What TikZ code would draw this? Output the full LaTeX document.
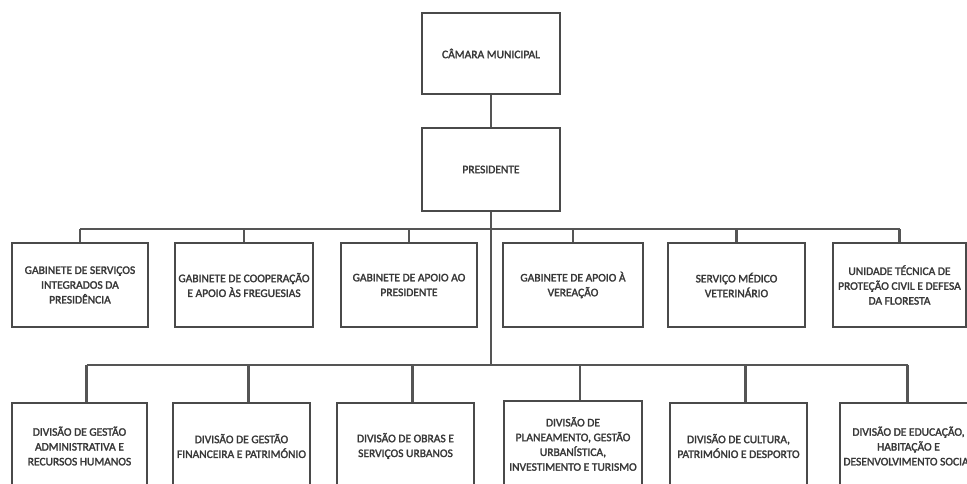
\documentclass[tikz,border=0pt]{standalone}
\usepackage{fontspec}
\setmainfont{Carlito}
\newfontfamily\boxfont{Carlito}[FakeBold=2]
\definecolor{boxc}{HTML}{4A4A4A}
\definecolor{linec}{HTML}{555555}
\definecolor{txtc}{HTML}{383838}
\begin{document}
\begin{tikzpicture}[x=1pt,y=-1pt,
  box/.style={draw=boxc, line width=2.8pt, fill=white, minimum width=#1,
    minimum height=84pt, inner sep=0pt, align=center,
    font=\boxfont\fontsize{11.5}{14.8}\selectfont, text=txtc},
  box/.default=137pt,
  conn/.style={draw=linec, line width=2.2pt}]
\useasboundingbox (0,0) rectangle (967,484);
\clip (0,0) rectangle (967,484);
\fill[white] (0,0) rectangle (967,484);

% buses
\coordinate (b1) at (0,229);
\coordinate (b2) at (0,365);

% top
\node[box=138pt, minimum height=81pt] (cm) at (491,53.5) {CÂMARA MUNICIPAL};
\node[box=138pt, minimum height=83pt] (pres) at (491,169.5) {PRESIDENTE};

% row 1
\node[box=136pt] (g1) at (80,285) {GABINETE DE SERVIÇOS\\INTEGRADOS DA\\PRESIDÊNCIA};
\node[box=138pt] (g2) at (244,285) {GABINETE DE COOPERAÇÃO\\E APOIO ÀS FREGUESIAS};
\node[box=136pt] (g3) at (409,285) {GABINETE DE APOIO AO\\PRESIDENTE};
\node[box=140pt] (g4) at (573,285) {GABINETE DE APOIO À\\VEREAÇÃO};
\node[box=137pt] (g5) at (736.5,285) {SERVIÇO MÉDICO\\VETERINÁRIO};
\node[box=133pt] (g6) at (899.5,285) {UNIDADE TÉCNICA DE\\PROTEÇÃO CIVIL E DEFESA\\DA FLORESTA};

% row 2
\node[box=135pt, minimum height=86pt] (d1) at (79.5,446) {DIVISÃO DE GESTÃO\\ADMINISTRATIVA E\\RECURSOS HUMANOS};
\node[box=137pt, minimum height=86pt] (d2) at (241.5,446) {DIVISÃO DE GESTÃO\\FINANCEIRA E PATRIMÓNIO};
\node[box=137pt, minimum height=86pt] (d3) at (405.5,446) {DIVISÃO DE OBRAS E\\SERVIÇOS URBANOS};
\node[box=138pt, minimum height=86pt] (d4) at (573,444) {DIVISÃO DE\\PLANEAMENTO, GESTÃO\\URBANÍSTICA,\\INVESTIMENTO E TURISMO};
\node[box=137pt, minimum height=86pt] (d5) at (738.5,446) {DIVISÃO DE CULTURA,\\PATRIMÓNIO E DESPORTO};
\node[box=137pt, minimum height=86pt] (d6) at (908.5,446) {DIVISÃO DE EDUCAÇÃO,\\HABITAÇÃO E\\DESENVOLVIMENTO SOCIAL};

% connectors
\draw[conn] (cm.south) -- (pres.north);
\draw[conn] (pres.south) -- (pres.south |- b2);
\draw[conn] (g1.north |- b1) -- (g6.north |- b1);
\foreach \n in {g1,g2,g3,g4,g5,g6}
  \draw[conn] (\n.north |- b1) -- (\n.north);
\draw[conn] ([xshift=7pt]d1.north |- b2) -- ([xshift=-1pt]d6.north |- b2);
\foreach \n in {d1,d2,d3,d4,d5}
  \draw[conn] ([xshift=7pt]\n.north |- b2) -- ([xshift=7pt]\n.north);
\draw[conn] ([xshift=-1pt]d6.north |- b2) -- ([xshift=-1pt]d6.north);
\end{tikzpicture}
\end{document}
